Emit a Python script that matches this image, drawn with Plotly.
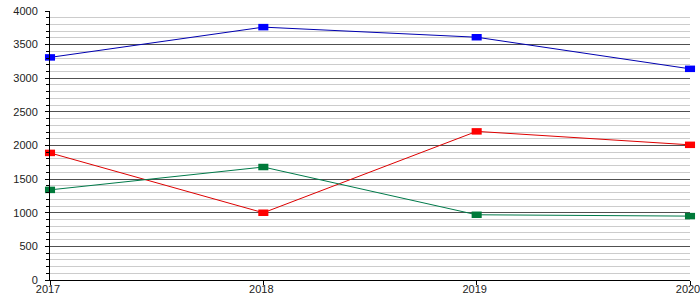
import plotly.graph_objects as go

years = [2017, 2018, 2019, 2020]
blue_vals = [3310, 3760, 3610, 3140]
red_vals = [1890, 1000, 2210, 2010]
green_vals = [1340, 1680, 970, 950]

series = [
    (blue_vals, "#0000b0", "#0000ff"),
    (red_vals, "#dd0000", "#ff0000"),
    (green_vals, "#007a4a", "#007a3a"),
]

fig = go.Figure()
for vals, lc, mc in series:
    fig.add_trace(go.Scatter(
        x=years, y=vals, mode="lines+markers",
        line=dict(color=lc, width=1),
        marker=dict(symbol="line-ew", size=7.2, color=mc,
                    line=dict(width=6.5, color=mc)),
        showlegend=False, cliponaxis=False,
    ))

fig.update_layout(
    width=700, height=300,
    margin=dict(l=50, r=10, t=11, b=20, autoexpand=False),
    paper_bgcolor="white", plot_bgcolor="white",
    font=dict(family="Liberation Sans, Arial, sans-serif", size=11, color="#222"),
)
fig.update_xaxes(
    range=[2017, 2020], tickvals=years, ticktext=[str(y) for y in years],
    showgrid=False, showline=True, linecolor="black", linewidth=1,
    ticks="outside", ticklen=4, tickcolor="black", zeroline=False,
    automargin=False, ticklabeloverflow="allow",
    ticklabelshift=-2, ticklabelstandoff=-5,
)
fig.update_yaxes(
    range=[0, 4000], dtick=500, showgrid=True, gridcolor="#505050", gridwidth=1,
    showline=True, linecolor="black", linewidth=1,
    ticks="outside", ticklen=4, tickcolor="black", zeroline=False,
    automargin=False, ticklabeloverflow="allow", ticklabelstandoff=5,
    minor=dict(dtick=100, showgrid=True, gridcolor="#cccccc", gridwidth=1,
               ticks="outside", ticklen=3, tickcolor="black"),
)
fig.write_html("out.html")
